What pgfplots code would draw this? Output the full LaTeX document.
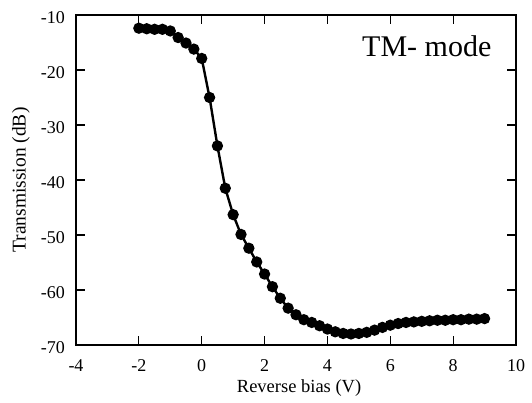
\documentclass[border=0pt]{standalone}
\usepackage{fontspec}
\setmainfont{Liberation Serif}
\usepackage{pgfplots}
\pgfplotsset{compat=1.18}
\begin{document}
\begin{tikzpicture}
\begin{axis}[
  scale only axis,
  width=440pt, height=330pt,
  xmin=-4, xmax=10, ymin=-70, ymax=-10,
  xtick={-4,-2,...,10}, ytick={-70,-60,...,-10},
  tick align=inside,
  major tick length=9pt,
  axis line style={line width=1.4pt},
  every tick/.style={line width=1.2pt, black},
  /pgf/number format/assume math mode=true,
  tick label style={font=\fontsize{18}{18}\selectfont},
  xticklabel style={anchor=center, inner sep=0pt, yshift=-21pt},
  yticklabel style={anchor=east, inner sep=0pt, xshift=-11pt, yshift=-3pt},
  xlabel={Reverse bias (V)},
  ylabel={Transmission (dB)},
  xlabel style={at={(axis description cs:0.507,-0.145)}, anchor=base, inner sep=0pt, font=\fontsize{18.5}{19}\selectfont},
  ylabel style={at={(axis description cs:-0.125,0.5)}, anchor=center, rotate=0, font=\fontsize{19.5}{20}\selectfont},
  clip=false,
]
\addplot[black, line width=2.4pt, mark=*, mark size=4.4pt, mark options={solid, fill=black}] coordinates {
(-2,-12.4) (-1.75,-12.5) (-1.5,-12.6) (-1.25,-12.6) (-1,-12.9) (-0.75,-14.1)
(-0.5,-15.1) (-0.25,-16.2) (0,-17.9) (0.25,-25.0) (0.5,-33.8) (0.75,-41.5)
(1,-46.3) (1.25,-49.9) (1.5,-52.4) (1.75,-54.9) (2,-57.1) (2.25,-59.4)
(2.5,-61.5) (2.75,-63.3) (3,-64.5) (3.25,-65.4) (3.5,-65.9) (3.75,-66.5)
(4,-67.1) (4.25,-67.6) (4.5,-67.9) (4.75,-68.0) (5,-67.9) (5.25,-67.7)
(5.5,-67.3) (5.75,-66.8) (6,-66.4) (6.25,-66.1) (6.5,-65.9) (6.75,-65.8)
(7,-65.7) (7.25,-65.6) (7.5,-65.5) (7.75,-65.5) (8,-65.4) (8.25,-65.4)
(8.5,-65.3) (8.75,-65.3) (9,-65.2)
};
\node[anchor=base west, inner sep=0pt, font=\fontsize{30}{30}\selectfont] at (rel axis cs:0.65,0.873) {TM- mode};
\end{axis}
\pgfresetboundingbox
\path ([xshift=-76pt,yshift=-58pt]current axis.south west) rectangle ([xshift=16pt,yshift=15pt]current axis.north east);
\end{tikzpicture}
\end{document}
